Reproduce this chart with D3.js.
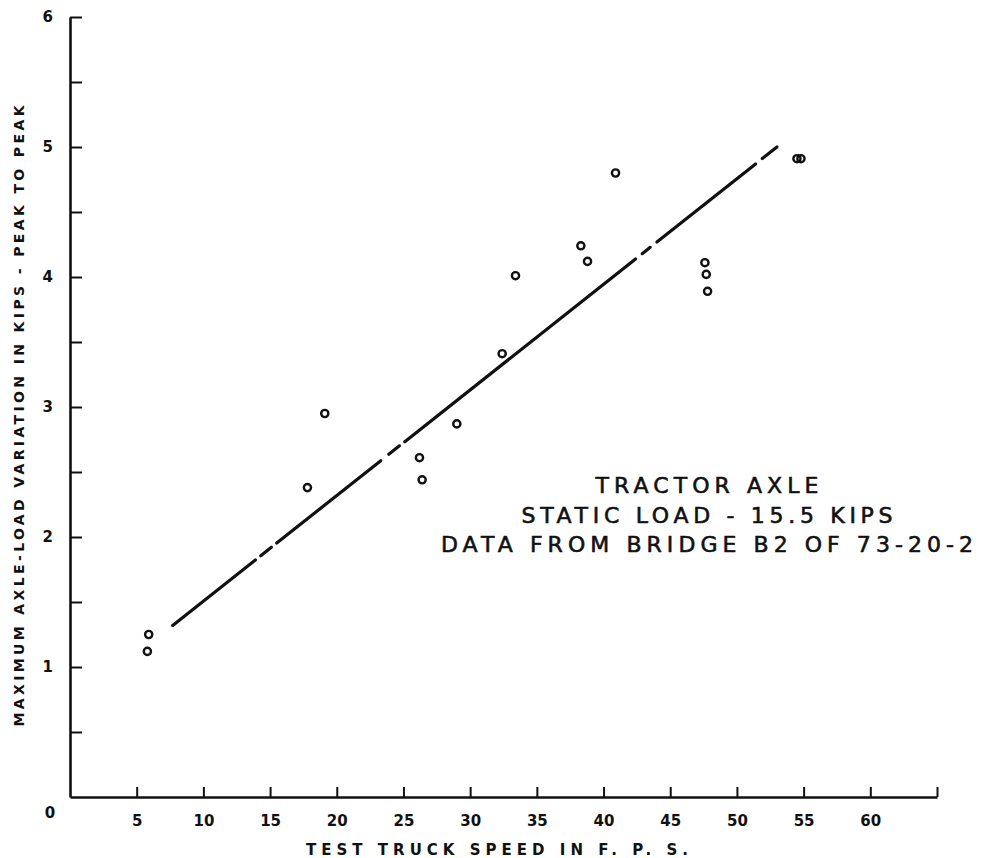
<!DOCTYPE html>
<html>
<head>
<meta charset="utf-8">
<script src="https://cdn.jsdelivr.net/npm/d3@7"></script>
<style>
  html, body { margin: 0; padding: 0; background: #fff; }
  svg { display: block; }
</style>
</head>
<body>
<svg id="chart" width="987" height="858"></svg>
<script>
// ---------- data ----------
const speeds = [5.9, 5.8, 17.8, 19.1, 26.2, 26.4, 29.0, 32.4, 33.4, 38.3, 38.8, 40.9, 47.6, 47.7, 47.8, 54.5, 54.8];
const loadVariation = [1.25, 1.12, 2.38, 2.95, 2.61, 2.44, 2.87, 3.41, 4.01, 4.24, 4.12, 4.80, 4.11, 4.02, 3.89, 4.91, 4.91];
// fitted line end points (speed, load variation)
const fitStart = [7.7, 1.32];
const fitEnd = [53.0, 5.0];
// drawn pieces of the fitted line (speed ranges)
const fitPieces = [[7.7, 13.9], [14.3, 15.1], [15.5, 23.3], [23.9, 24.7], [25.1, 42.4], [42.9, 43.5], [44.0, 51.4], [51.9, 53.0]];
const xTickValues = [5, 10, 15, 20, 25, 30, 35, 40, 45, 50, 55, 60, 65];
const xTickLabels = ["5", "10", "15", "20", "25", "30", "35", "40", "45", "50", "55", "60", ""];
const yTickValues = [0.5, 1, 1.5, 2, 2.5, 3, 3.5, 4, 4.5, 5, 5.5, 6];
const yTickLabels = ["", "1", "", "2", "", "3", "", "4", "", "5", "", "6"];
const xTitle = "TEST TRUCK SPEED IN F. P. S.";
const yTitle = "MAXIMUM AXLE-LOAD VARIATION IN KIPS - PEAK TO PEAK";
const noteLines = ["TRACTOR AXLE", "STATIC LOAD - 15.5 KIPS", "DATA FROM BRIDGE B2 OF 73-20-2"];

// ---------- layout ----------
const svg = d3.select("#chart");
const x = d3.scaleLinear().domain([0, 65]).range([70, 937]);
const y = d3.scaleLinear().domain([0, 6]).range([797, 17]);
const ink = "#111";
const axisFont = "'DejaVu Sans', sans-serif";

// x axis
const xAxis = d3.axisBottom(x)
  .tickValues(xTickValues)
  .tickSizeInner(-10)
  .tickSizeOuter(0)
  .tickPadding(18)
  .tickFormat((d, i) => xTickLabels[i]);
const gx = svg.append("g").attr("transform", `translate(0,${y(0)})`).call(xAxis);
gx.select(".domain").attr("stroke", ink).attr("stroke-width", 2.6);
gx.selectAll(".tick line").attr("stroke", ink).attr("stroke-width", 2);
gx.selectAll(".tick text")
  .attr("fill", ink)
  .style("font-family", axisFont)
  .style("font-weight", "bold")
  .style("font-size", "15px");

// y axis
const yAxis = d3.axisLeft(y)
  .tickValues(yTickValues)
  .tickSizeInner(-12)
  .tickSizeOuter(0)
  .tickPadding(17)
  .tickFormat((d, i) => yTickLabels[i]);
const gy = svg.append("g").attr("transform", `translate(${x(0)},0)`).call(yAxis);
gy.select(".domain").attr("stroke", ink).attr("stroke-width", 2.6);
gy.selectAll(".tick line").attr("stroke", ink).attr("stroke-width", 2);
gy.selectAll(".tick text")
  .attr("fill", ink)
  .style("font-family", axisFont)
  .style("font-weight", "bold")
  .style("font-size", "15px");

// origin label
svg.append("text")
  .attr("x", x(0) - 20)
  .attr("y", y(0) + 21)
  .attr("text-anchor", "middle")
  .attr("fill", ink)
  .style("font-family", axisFont)
  .style("font-weight", "bold")
  .style("font-size", "15px")
  .text("0");

// axis titles
svg.append("text")
  .attr("x", 497)
  .attr("y", 855)
  .attr("text-anchor", "middle")
  .attr("textLength", 382)
  .attr("lengthAdjust", "spacing")
  .attr("fill", ink)
  .style("font-family", axisFont)
  .style("font-weight", "bold")
  .style("font-size", "15px")
  .text(xTitle);

svg.append("text")
  .attr("transform", "translate(24,416) rotate(-90)")
  .attr("text-anchor", "middle")
  .attr("textLength", 621)
  .attr("lengthAdjust", "spacing")
  .attr("fill", ink)
  .style("font-family", axisFont)
  .style("font-weight", "bold")
  .style("font-size", "14px")
  .text(yTitle);

// fitted line pieces
const slope = (fitEnd[1] - fitStart[1]) / (fitEnd[0] - fitStart[0]);
const fitY = s => fitStart[1] + slope * (s - fitStart[0]);
svg.append("g").selectAll("line")
  .data(fitPieces)
  .join("line")
  .attr("x1", d => x(d[0]))
  .attr("y1", d => y(fitY(d[0])))
  .attr("x2", d => x(d[1]))
  .attr("y2", d => y(fitY(d[1])))
  .attr("stroke", ink)
  .attr("stroke-width", 3.2)
  .attr("stroke-linecap", "round");

// points
svg.append("g").selectAll("circle")
  .data(speeds.map((s, i) => [s, loadVariation[i]]))
  .join("circle")
  .attr("cx", d => x(d[0]))
  .attr("cy", d => y(d[1]))
  .attr("r", 3.6)
  .attr("fill", "none")
  .attr("stroke", ink)
  .attr("stroke-width", 2.4);

// annotation
const noteWidths = [223, 371, 532];
svg.append("g").selectAll("text")
  .data(noteLines)
  .join("text")
  .attr("x", 707)
  .attr("y", (d, i) => 493 + i * 29.5)
  .attr("text-anchor", "middle")
  .attr("textLength", (d, i) => noteWidths[i])
  .attr("lengthAdjust", "spacing")
  .attr("fill", ink)
  .attr("stroke", ink)
  .attr("stroke-width", 0.6)
  .style("font-family", axisFont)
  .style("font-size", "22px")
  .text(d => d);
</script>
</body>
</html>
